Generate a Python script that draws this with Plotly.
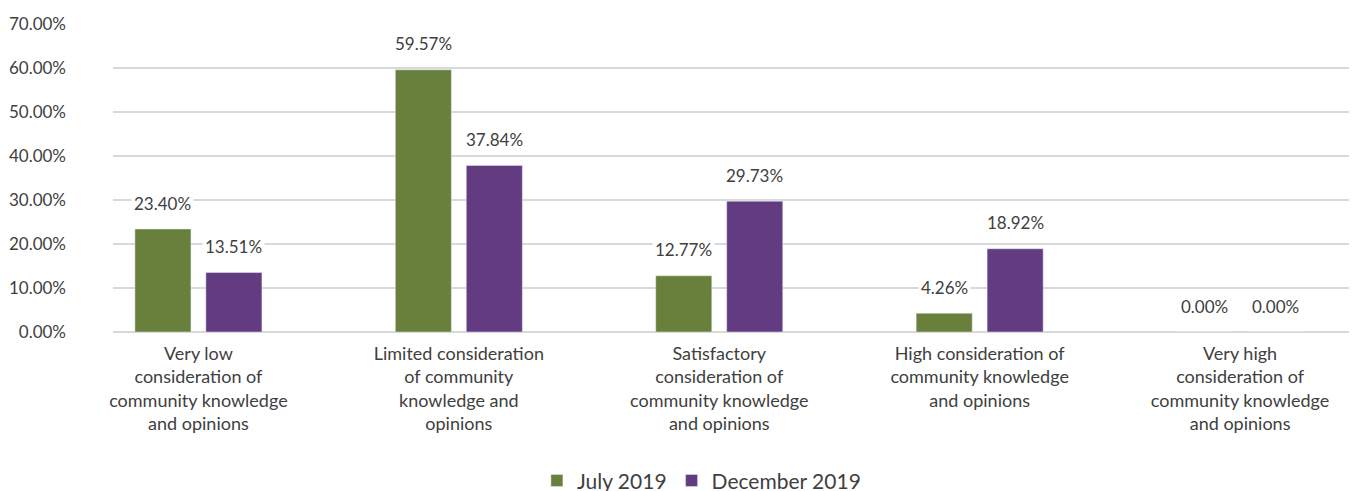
import plotly.graph_objects as go

categories = [
    "Very low<br>consideration of<br>community knowledge<br>and opinions",
    "Limited consideration<br>of community<br>knowledge and<br>opinions",
    "Satisfactory<br>consideration of<br>community knowledge<br>and opinions",
    "High consideration of<br>community knowledge<br>and opinions",
    "Very high<br>consideration of<br>community knowledge<br>and opinions",
]
july_2019 = [23.40, 59.57, 12.77, 4.26, 0.00]
december_2019 = [13.51, 37.84, 29.73, 18.92, 0.00]
y_ticks = [0, 10, 20, 30, 40, 50, 60, 70]

FONT = "Lato"
TEXT_COLOR = "#404040"
GRID_COLOR = "#D9D9D9"

series = [
    ("July 2019", july_2019, "#68803B", -35.5),
    ("December 2019", december_2019, "#633B80", 35.5),
]

fig = go.Figure()
annotations = []
for name, values, color, shift in series:
    fig.add_trace(go.Bar(
        x=categories,
        y=values,
        name=name,
        marker_color=color,
    ))
    for cat, val in zip(categories, values):
        annotations.append(dict(
            x=cat, y=val, text=f"{val:.2f}%",
            showarrow=False, xshift=shift, yshift=26,
            bgcolor="white", borderpad=2,
            font=dict(family=FONT, size=17, color=TEXT_COLOR),
        ))

fig.update_layout(
    width=1357,
    height=491,
    barmode="group",
    bargap=0.455,
    bargroupgap=0.21,
    plot_bgcolor="white",
    paper_bgcolor="white",
    font=dict(family=FONT, size=18, color=TEXT_COLOR),
    # page body adds an 8px offset, so margins are shifted to compensate
    margin=dict(l=105, r=8, t=15, b=167),
    annotations=annotations,
    legend=dict(
        orientation="h",
        x=0.473, xanchor="center",
        yref="container", y=0.037, yanchor="middle",
        font=dict(size=21),
        itemwidth=30,
    ),
)
fig.update_xaxes(
    range=[-0.328, 4.449],
    showgrid=False,
    tickfont=dict(size=18),
    ticks="",
    ticklabelstandoff=9,
    automargin=False,
)
fig.update_yaxes(
    range=[0, 70.2],
    tickvals=y_ticks,
    ticktext=[f"{v:.2f}%" for v in y_ticks],
    gridcolor=GRID_COLOR,
    gridwidth=1.5,
    zeroline=True,
    zerolinecolor=GRID_COLOR,
    zerolinewidth=1.5,
    tickfont=dict(size=17),
    ticklabelstandoff=46,
    automargin=False,
)

fig.write_html("out.html")
